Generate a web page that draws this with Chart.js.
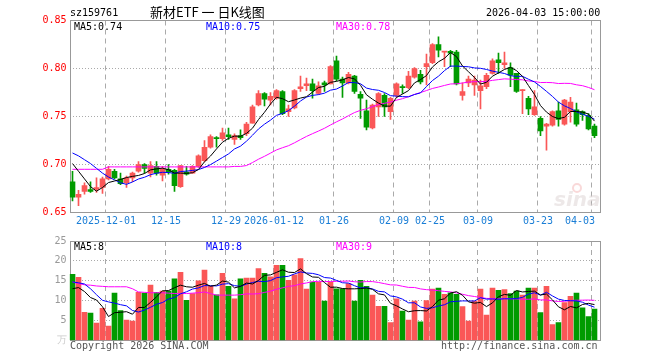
<!DOCTYPE html>
<html>
<head>
<meta charset="utf-8">
<script src="https://cdn.jsdelivr.net/npm/chart.js@4.4.1/dist/chart.umd.min.js"></script>
<style>
  body { margin: 0; background: #fff; }
  #wrap { position: relative; width: 660px; height: 360px; overflow: hidden; font-family: "DejaVu Sans Mono", monospace; font-size: 10px; }
  #wrap canvas { position: absolute; left: 0; }
  .t { position: absolute; white-space: pre; line-height: 12px; }
</style>
</head>
<body>
<div id="wrap">
  <canvas id="kChart" width="660" height="232" style="top:0"></canvas>
  <canvas id="volChart" width="660" height="128" style="top:232px"></canvas>
  <div class="t" style="left:70px;top:7px;color:#000">sz159761</div>
  <div class="t" style="left:150px;top:4px;font-family:'Noto Sans CJK SC';font-size:13px;line-height:16px;color:#000">新材ETF 一 日K线图</div>
  <div class="t" style="left:486px;top:7px;color:#000">2026-04-03 15:00:00</div>
  <div class="t" style="left:74px;top:21px;color:#000">MA5:0.74</div>
  <div class="t" style="left:206px;top:21px;color:#00f">MA10:0.75</div>
  <div class="t" style="left:336px;top:21px;color:#f0f">MA30:0.78</div>
  <div class="t" style="left:74px;top:241px;color:#000">MA5:8</div>
  <div class="t" style="left:206px;top:241px;color:#00f">MA10:8</div>
  <div class="t" style="left:336px;top:241px;color:#f0f">MA30:9</div>
  <div class="t" style="left:70px;top:340px;color:#555">Copyright 2026 SINA.COM</div>
  <div class="t" style="left:441px;top:340px;color:#555">http://finance.sina.com.cn</div>
</div>
<script>
// daily K data, 2025-11-21 .. 2026-04-03 (88 sessions)
const opens = [
  0.682, 0.666, 0.672, 0.674, 0.674, 0.676, 0.685, 0.693, 0.685, 0.681,
  0.686, 0.693, 0.700, 0.691, 0.698, 0.689, 0.695, 0.694, 0.677, 0.692,
  0.691, 0.698, 0.704, 0.718, 0.728, 0.727, 0.731, 0.726, 0.730, 0.732,
  0.743, 0.762, 0.774, 0.767, 0.769, 0.776, 0.755, 0.759, 0.779, 0.782,
  0.784, 0.774, 0.785, 0.784, 0.808, 0.789, 0.785, 0.792, 0.773, 0.756,
  0.738, 0.760, 0.772, 0.755, 0.772, 0.781, 0.780, 0.791, 0.794, 0.802,
  0.806, 0.825, 0.817, 0.818, 0.817, 0.772, 0.785, 0.783, 0.777, 0.781,
  0.795, 0.809, 0.804, 0.801, 0.795, 0.777, 0.769, 0.752, 0.748, 0.740,
  0.741, 0.756, 0.742, 0.755, 0.757, 0.755, 0.751, 0.740
];
const highs = [
  0.693, 0.673, 0.681, 0.682, 0.686, 0.687, 0.698, 0.695, 0.691, 0.688,
  0.692, 0.703, 0.701, 0.703, 0.703, 0.698, 0.700, 0.695, 0.699, 0.698,
  0.699, 0.710, 0.725, 0.731, 0.729, 0.738, 0.738, 0.732, 0.736, 0.744,
  0.762, 0.777, 0.775, 0.775, 0.778, 0.777, 0.762, 0.778, 0.792, 0.790,
  0.789, 0.786, 0.787, 0.803, 0.813, 0.791, 0.796, 0.793, 0.776, 0.767,
  0.763, 0.775, 0.774, 0.770, 0.785, 0.783, 0.797, 0.801, 0.798, 0.815,
  0.826, 0.833, 0.818, 0.819, 0.819, 0.785, 0.792, 0.792, 0.788, 0.795,
  0.810, 0.816, 0.817, 0.806, 0.795, 0.778, 0.771, 0.777, 0.750, 0.743,
  0.756, 0.765, 0.768, 0.770, 0.764, 0.756, 0.753, 0.742
];
const lows = [
  0.662, 0.657, 0.669, 0.671, 0.671, 0.670, 0.684, 0.685, 0.679, 0.676,
  0.682, 0.692, 0.691, 0.687, 0.689, 0.683, 0.690, 0.672, 0.676, 0.689,
  0.691, 0.697, 0.703, 0.717, 0.718, 0.725, 0.726, 0.721, 0.726, 0.730,
  0.743, 0.761, 0.761, 0.762, 0.768, 0.752, 0.750, 0.758, 0.776, 0.777,
  0.769, 0.773, 0.776, 0.784, 0.787, 0.770, 0.784, 0.774, 0.748, 0.736,
  0.737, 0.750, 0.750, 0.747, 0.770, 0.774, 0.779, 0.790, 0.784, 0.783,
  0.805, 0.812, 0.802, 0.802, 0.783, 0.767, 0.781, 0.772, 0.758, 0.779,
  0.794, 0.795, 0.800, 0.781, 0.775, 0.753, 0.752, 0.751, 0.730, 0.715,
  0.740, 0.740, 0.741, 0.744, 0.740, 0.746, 0.736, 0.728
];
const closes = [
  0.666, 0.669, 0.678, 0.672, 0.676, 0.685, 0.695, 0.686, 0.680, 0.686,
  0.691, 0.700, 0.696, 0.699, 0.691, 0.695, 0.692, 0.678, 0.699, 0.690,
  0.698, 0.709, 0.718, 0.729, 0.727, 0.733, 0.729, 0.730, 0.728, 0.742,
  0.760, 0.774, 0.768, 0.771, 0.777, 0.753, 0.758, 0.777, 0.781, 0.784,
  0.777, 0.782, 0.783, 0.802, 0.789, 0.785, 0.794, 0.776, 0.769, 0.739,
  0.762, 0.774, 0.760, 0.769, 0.784, 0.780, 0.792, 0.800, 0.786, 0.805,
  0.825, 0.819, 0.818, 0.816, 0.784, 0.776, 0.789, 0.788, 0.782, 0.793,
  0.808, 0.806, 0.806, 0.793, 0.776, 0.778, 0.758, 0.760, 0.735, 0.742,
  0.755, 0.747, 0.767, 0.765, 0.742, 0.752, 0.737, 0.730
];
// volume (万)
const volumes = [
  16.6, 15.9, 7.1, 6.9, 4.4, 8.1, 3.6, 11.9, 7.5, 5.1,
  4.9, 12.1, 11.9, 13.9, 12.1, 12.4, 12.4, 15.5, 17.1, 10.1,
  11.8, 15.0, 17.7, 13.6, 11.5, 16.9, 13.6, 10.5, 15.5, 15.7,
  15.7, 18.1, 16.9, 16.0, 18.9, 18.9, 15.1, 16.5, 20.6, 12.9,
  14.7, 14.7, 9.9, 14.7, 13.0, 13.0, 14.3, 9.9, 15.1, 13.6,
  11.4, 8.6, 8.6, 4.5, 10.5, 7.4, 5.1, 9.9, 4.7, 10.0,
  12.9, 13.2, 11.6, 12.0, 11.6, 8.5, 4.9, 9.9, 12.9, 6.4,
  13.2, 12.6, 12.8, 11.8, 12.4, 11.4, 13.2, 13.2, 7.0, 13.6,
  4.0, 4.5, 9.5, 11.1, 11.9, 8.2, 6.0, 7.9
];

// moving-average values at the left edge (window still needs earlier sessions)
const ma5Head = [0.701, 0.693, 0.685, 0.677];
const ma10Head = [0.712, 0.709, 0.705, 0.701, 0.696, 0.691, 0.687, 0.684, 0.681];
const ma30Head = [
  0.695, 0.695, 0.695, 0.695, 0.695, 0.695, 0.6975, 0.6975, 0.6975, 0.6975,
  0.6975, 0.6975, 0.6975, 0.6975, 0.6975, 0.6975, 0.6975, 0.6975, 0.6975, 0.6975,
  0.6975, 0.6975, 0.6975, 0.6975, 0.6975, 0.6975, 0.6975, 0.698, 0.698
];
const vma5Head = [13.0, 13.3, 12.3, 10.8];
const vma10Head = [14.7, 14.5, 14.2, 13.0, 11.5, 10.1, 9.7, 9.4, 9.0];
const vma30Head = [
  14.7, 14.3, 14.0, 13.9, 13.7, 13.6, 13.5, 13.5, 13.5, 13.5,
  13.0, 12.2, 12.1, 12.0, 12.0, 12.0, 11.9, 11.8, 11.8, 11.8,
  11.9, 12.0, 12.2, 11.8, 11.4, 11.4, 11.4, 11.4, 11.5
];

// x axis marks
const dateTickIdx = [6, 16, 26, 34, 44, 54, 60, 68, 78, 87];
const dateTickLabels = ['2025-12-01', '12-15', '12-29', '2026-01-12', '01-26', '02-09', '02-25', '03-09', '03-23', '04-03    '];
const priceTicks = [0.65, 0.70, 0.75, 0.80, 0.85];
const priceTickLabels = ['0.65', '0.70', '0.75', '0.80', '0.85'];
const volTicks = [0, 5, 10, 15, 20, 25];
const volTickLabels = ['万', '5', '10', '15', '20', '25'];

const RED = '#fa5757';
const GREEN = '#009b00';
const GRID = '#aaa';
const MONO = 'DejaVu Sans Mono';

const upColor = opens.map((o, i) => closes[i] >= o ? RED : GREEN);

function movingAvg(arr, n, head) {
  return arr.map((v, i) => {
    if (i < n - 1) return head[i];
    let s = 0;
    for (let k = i - n + 1; k <= i; k++) s += arr[k];
    return s / n;
  });
}
const xy = arr => arr.map((v, i) => ({ x: i, y: v }));

const xMin = -0.5;
const xMax = 87.92;
const gridX = dateTickIdx.map(k => k - 0.4167);

const frame = {
  id: 'frame',
  beforeDatasetsDraw(chart) {
    const { ctx, chartArea: a } = chart;
    ctx.save();
    ctx.strokeStyle = '#999';
    ctx.lineWidth = 1;
    const l = Math.ceil(a.left) + 0.5, t = Math.floor(a.top) + 0.5;
    const r = Math.floor(a.right) + 0.5, b = Math.floor(a.bottom) + 0.5;
    ctx.strokeRect(l, t, r - l, b - t);
    ctx.restore();
  }
};

const watermark = {
  id: 'watermark',
  beforeDatasetsDraw(chart) {
    const { ctx } = chart;
    ctx.save();
    ctx.fillStyle = 'rgba(215,205,205,0.45)';
    ctx.font = 'italic bold 20px "DejaVu Sans"';
    ctx.fillText('sina', 554, 206);
    ctx.strokeStyle = 'rgba(240,160,160,0.4)';
    ctx.lineWidth = 2;
    ctx.beginPath();
    ctx.arc(577, 188, 4, 0, Math.PI * 2);
    ctx.stroke();
    ctx.restore();
  }
};

function xScale(showLabels) {
  return {
    type: 'linear',
    offset: false,
    min: xMin,
    max: xMax,
    afterBuildTicks: s => { s.ticks = gridX.map(v => ({ value: v })); },
    afterFit: s => { s.height = showLabels ? 19.5 : 0; },
    ticks: {
      display: showLabels,
      autoSkip: false,
      maxRotation: 0,
      padding: 3,
      color: '#1a7ed6',
      font: { family: MONO, size: 10 },
      callback: (v, i) => dateTickLabels[i]
    },
    grid: { color: GRID, drawTicks: false, offset: false },
    border: { display: false, dash: [5, 4] }
  };
}

// K line chart
new Chart(document.getElementById('kChart'), {
  type: 'bar',
  data: {
    datasets: [
      { type: 'line', data: xy(movingAvg(closes, 5, ma5Head)), borderColor: '#000', borderWidth: 1, pointRadius: 0, order: 0 },
      { type: 'line', data: xy(movingAvg(closes, 10, ma10Head)), borderColor: '#00f', borderWidth: 1, pointRadius: 0, order: 0 },
      { type: 'line', data: xy(movingAvg(closes, 30, ma30Head)), borderColor: '#f0f', borderWidth: 1, pointRadius: 0, order: 0 },
      {
        data: opens.map((o, i) => ({ x: i, y: [o, closes[i]] })),
        backgroundColor: upColor, barThickness: 5, minBarLength: 1, grouped: false, order: 1
      },
      {
        data: lows.map((l, i) => ({ x: i, y: [l, highs[i]] })),
        backgroundColor: upColor, barThickness: 1, grouped: false, order: 2
      }
    ]
  },
  options: {
    responsive: false,
    animation: false,
    events: [],
    layout: { padding: { top: 20.5, right: 60, left: 0, bottom: 0 } },
    plugins: { legend: { display: false }, tooltip: { enabled: false } },
    scales: {
      x: xScale(true),
      y: {
        min: 0.65,
        max: 0.85,
        afterBuildTicks: s => { s.ticks = priceTicks.map(v => ({ value: v })); },
        afterFit: s => { s.width = 69.5; },
        ticks: {
          padding: 3,
          color: '#f00',
          font: { family: MONO, size: 10 },
          callback: (v, i) => priceTickLabels[i]
        },
        grid: {
          drawTicks: false,
          color: c => (c.index === 0 || c.index === priceTicks.length - 1) ? 'rgba(0,0,0,0)' : GRID
        },
        border: { display: false, dash: [1, 2] }
      }
    }
  },
  plugins: [frame, watermark]
});

// volume chart
new Chart(document.getElementById('volChart'), {
  type: 'bar',
  data: {
    datasets: [
      { type: 'line', data: xy(movingAvg(volumes, 5, vma5Head)), borderColor: '#000', borderWidth: 1, pointRadius: 0, order: 0 },
      { type: 'line', data: xy(movingAvg(volumes, 10, vma10Head)), borderColor: '#00f', borderWidth: 1, pointRadius: 0, order: 0 },
      { type: 'line', data: xy(movingAvg(volumes, 30, vma30Head)), borderColor: '#f0f', borderWidth: 1, pointRadius: 0, order: 0 },
      {
        data: xy(volumes),
        backgroundColor: upColor, barThickness: 5, grouped: false, order: 1
      }
    ]
  },
  options: {
    responsive: false,
    animation: false,
    events: [],
    layout: { padding: { top: 8.5, right: 60, left: 0, bottom: 19.5 } },
    plugins: { legend: { display: false }, tooltip: { enabled: false } },
    scales: {
      x: xScale(false),
      y: {
        min: 0,
        max: 25,
        afterBuildTicks: s => { s.ticks = volTicks.map(v => ({ value: v })); },
        afterFit: s => { s.width = 69.5; },
        ticks: {
          padding: 3,
          color: c => c.index === 0 ? '#ccc' : '#999',
          font: { family: MONO, size: 10 },
          callback: (v, i) => volTickLabels[i]
        },
        grid: {
          drawTicks: false,
          color: c => (c.index === 0 || c.index === volTicks.length - 1) ? 'rgba(0,0,0,0)' : GRID
        },
        border: { display: false, dash: [1, 2] }
      }
    }
  },
  plugins: [frame]
});
</script>
</body>
</html>
